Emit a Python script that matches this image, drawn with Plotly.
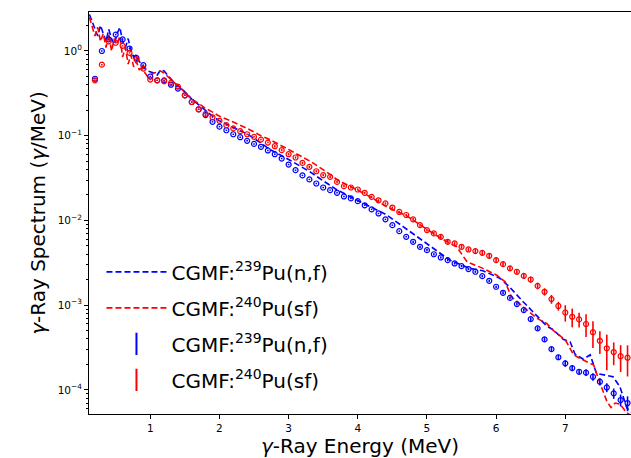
import plotly.graph_objects as go

# ---------------- data ----------------
energy = [0.2, 0.3, 0.4, 0.5, 0.6, 0.7, 0.8, 0.9, 1.0, 1.1, 1.2, 1.3, 1.4, 1.5, 1.6, 1.7, 1.8, 1.9,
          2.0, 2.1, 2.2, 2.3, 2.4, 2.5, 2.6, 2.7, 2.8, 2.9, 3.0, 3.1, 3.2, 3.3, 3.4, 3.5, 3.6, 3.7,
          3.8, 3.9, 4.0, 4.1, 4.2, 4.3, 4.4, 4.5, 4.6, 4.7, 4.8, 4.9, 5.0, 5.1, 5.2, 5.3, 5.4, 5.5,
          5.6, 5.7, 5.8, 5.9, 6.0, 6.1, 6.2, 6.3, 6.4, 6.5, 6.6, 6.7, 6.8, 6.9, 7.0, 7.1, 7.2, 7.3,
          7.4, 7.5, 7.6, 7.7, 7.8, 7.9]

pu239_pts = [0.47, 1.00, 1.37, 1.56, 1.37, 1.07, 0.83, 0.68, 0.50, 0.45, 0.45, 0.40, 0.36, 0.30,
             0.25, 0.205, 0.175, 0.146, 0.128, 0.116, 0.104, 0.096, 0.087, 0.080, 0.074, 0.067,
             0.0605, 0.0538, 0.0457, 0.0392, 0.0340, 0.0305, 0.0273, 0.0245, 0.0228, 0.0212,
             0.0192, 0.0182, 0.0169, 0.0151, 0.0135, 0.0121, 0.0103, 0.0088, 0.00748, 0.00641,
             0.0056, 0.00489, 0.00446, 0.00399, 0.00366, 0.0034, 0.00311, 0.00289, 0.00267,
             0.00248, 0.0022, 0.00194, 0.00165, 0.0014, 0.00122, 0.00103, 0.000875, 0.000686,
             0.000533, 0.000395, 0.000303, 0.000243, 0.000206, 0.000181, 0.000164, 0.00016,
             0.000143, 0.000125, 0.000107, 0.0000912, 0.000076, 0.00007]
pu239_relerr = [0.02, 0.02, 0.02, 0.02, 0.02, 0.02, 0.02, 0.02, 0.02, 0.02, 0.02, 0.02, 0.02, 0.02,
                0.02, 0.02, 0.02, 0.02, 0.02, 0.02, 0.02, 0.02, 0.02, 0.02, 0.02, 0.02, 0.02, 0.02,
                0.02, 0.02, 0.02, 0.02, 0.02, 0.02, 0.02, 0.02, 0.02, 0.02, 0.02, 0.02, 0.02, 0.02,
                0.02, 0.02, 0.02, 0.02, 0.03, 0.03, 0.03, 0.03, 0.03, 0.03, 0.03, 0.03, 0.03, 0.03,
                0.03, 0.03, 0.03, 0.04, 0.04, 0.04, 0.04, 0.05, 0.05, 0.06, 0.06, 0.07, 0.09, 0.08,
                0.08, 0.09, 0.10, 0.10, 0.12, 0.14, 0.16, 0.20]

pu240_pts = [0.45, 0.69, 1.30, 1.25, 1.15, 0.95, 0.80, 0.62, 0.46, 0.45, 0.44, 0.42, 0.38, 0.30,
             0.25, 0.205, 0.181, 0.165, 0.150, 0.133, 0.122, 0.113, 0.104, 0.097, 0.090, 0.083,
             0.0752, 0.0675, 0.0605, 0.0553, 0.0478, 0.0429, 0.0381, 0.0342, 0.0327, 0.0285,
             0.0254, 0.0245, 0.0232, 0.0212, 0.0190, 0.0173, 0.0159, 0.0142, 0.0126, 0.0116,
             0.0103, 0.0088, 0.0077, 0.00703, 0.00641, 0.0056, 0.00536, 0.00489, 0.00455,
             0.00435, 0.00415, 0.00383, 0.0034, 0.00305, 0.00272, 0.00248, 0.00222, 0.00201,
             0.00169, 0.00144, 0.00118, 0.00098, 0.00082, 0.00073, 0.00068, 0.0006, 0.00048,
             0.00038, 0.00031, 0.00028, 0.00025, 0.00024]
pu240_relerr = [0.02, 0.02, 0.02, 0.02, 0.02, 0.02, 0.02, 0.02, 0.02, 0.02, 0.02, 0.02, 0.02, 0.02,
                0.02, 0.02, 0.02, 0.02, 0.02, 0.02, 0.02, 0.02, 0.02, 0.02, 0.02, 0.02, 0.03, 0.03,
                0.03, 0.03, 0.03, 0.03, 0.03, 0.03, 0.03, 0.03, 0.03, 0.03, 0.03, 0.03, 0.03, 0.03,
                0.03, 0.03, 0.03, 0.03, 0.04, 0.04, 0.04, 0.04, 0.05, 0.05, 0.05, 0.05, 0.05, 0.06,
                0.06, 0.06, 0.06, 0.06, 0.07, 0.07, 0.08, 0.08, 0.09, 0.10, 0.12, 0.12, 0.22, 0.25,
                0.20, 0.30, 0.35, 0.30, 0.45, 0.30, 0.35, 0.40]

line_e = [0.12, 0.16, 0.20, 0.24, 0.28, 0.32, 0.36, 0.40, 0.44, 0.48, 0.52, 0.56, 0.60, 0.64, 0.68,
          0.72, 0.76, 0.80, 0.84, 0.88, 0.92, 0.96, 1.00, 1.05, 1.10, 1.15, 1.20, 1.25, 1.30, 1.35,
          1.40, 1.50, 1.60, 1.70, 1.80, 1.90, 2.00, 2.20, 2.40, 2.60, 2.73, 3.02, 3.31, 3.45, 3.69,
          3.94, 4.18, 4.42, 4.66, 4.90, 5.14, 5.33, 5.62, 5.81, 6.06, 6.20, 6.39, 6.59, 6.73, 6.83,
          6.97, 7.07, 7.14, 7.26, 7.36, 7.45, 7.55, 7.69, 7.79, 7.89, 7.95]
pu239_cgmf = [2.7, 2.2, 1.9, 1.5, 2.0, 1.6, 1.3, 1.8, 1.4, 1.2, 1.6, 1.9, 1.3, 1.1, 1.4, 1.0, 0.85,
              0.9, 0.75, 0.7, 0.62, 0.58, 0.57, 0.55, 0.52, 0.60, 0.58, 0.52, 0.47, 0.42, 0.39, 0.33,
              0.27, 0.23, 0.20, 0.17, 0.15, 0.125, 0.105, 0.082, 0.0688, 0.0514, 0.0374, 0.0313,
              0.0232, 0.0182, 0.0145, 0.0116, 0.0084, 0.0061, 0.00447, 0.0034, 0.00272, 0.00255,
              0.00207, 0.00162, 0.0011, 0.00076, 0.00057, 0.00051, 0.000395, 0.00037, 0.000265,
              0.00023, 0.00026, 0.000157, 0.00015, 0.000143, 0.000109, 0.0000612, 0.000055]

line_e240 = [0.12, 0.16, 0.20, 0.24, 0.28, 0.32, 0.36, 0.40, 0.44, 0.48, 0.52, 0.56, 0.60, 0.64, 0.68,
             0.72, 0.76, 0.80, 0.84, 0.88, 0.92, 0.96, 1.00, 1.05, 1.10, 1.15, 1.20, 1.25, 1.30, 1.35,
             1.40, 1.50, 1.60, 1.70, 1.80, 1.90, 2.00, 2.20, 2.40, 2.60, 2.73, 3.04, 3.33, 3.60, 3.71,
             3.98, 4.18, 4.42, 4.71, 5.09, 5.29, 5.43, 5.58, 5.81, 6.01, 6.13, 6.22, 6.39, 6.59, 6.73,
             6.83, 7.00, 7.12, 7.26, 7.41, 7.50, 7.60, 7.66, 7.72, 7.79, 7.89, 7.95]
pu240_cgmf = [2.5, 2.0, 1.5, 1.9, 1.3, 1.6, 1.1, 1.6, 1.0, 1.4, 1.2, 1.5, 0.85, 1.1, 0.7, 0.9, 0.65,
              0.75, 0.6, 0.62, 0.55, 0.5, 0.52, 0.55, 0.56, 0.58, 0.55, 0.5, 0.46, 0.42, 0.39, 0.32,
              0.27, 0.24, 0.21, 0.19, 0.17, 0.145, 0.122, 0.10, 0.090, 0.066, 0.049, 0.035, 0.0300,
              0.0232, 0.019, 0.0145, 0.0113, 0.00703, 0.0056, 0.00489, 0.00325, 0.00272, 0.00226,
              0.00189, 0.00126, 0.00096, 0.0007, 0.00061, 0.0005, 0.00039, 0.00026, 0.000225,
              0.000197, 0.000121, 0.000074, 0.000062, 0.00007, 0.000068, 0.0000535, 0.00005]

y_tickvals = [1e-4, 1e-3, 1e-2, 1e-1, 1]
y_ticktext = ["10<sup>−4</sup>", "10<sup>−3</sup>", "10<sup>−2</sup>", "10<sup>−1</sup>", "10<sup>0</sup>"]
x_tickvals = [1, 2, 3, 4, 5, 6, 7]

label_239 = "CGMF:<sup>239</sup>Pu(n,f)"
label_240 = "CGMF:<sup>240</sup>Pu(sf)"
BLUE = "#0000ff"
RED = "#ff0000"

fig = go.Figure()

fig.add_trace(go.Scatter(x=line_e, y=pu239_cgmf, mode="lines", name=label_239,
                         line=dict(color=BLUE, width=1.6, dash="6px,3px"), legendgroup="a"))
fig.add_trace(go.Scatter(x=line_e240, y=pu240_cgmf, mode="lines", name=label_240,
                         line=dict(color=RED, width=1.6, dash="6px,3px"), legendgroup="b"))

for pts, rel, col, grp, lab in [(pu239_pts, pu239_relerr, BLUE, "c", label_239),
                                 (pu240_pts, pu240_relerr, RED, "d", label_240)]:
    errs = [p * r for p, r in zip(pts, rel)]
    fig.add_trace(go.Scatter(x=energy, y=pts, mode="markers", showlegend=False, legendgroup=grp,
                             marker=dict(symbol="circle-open", size=5, color=col, line=dict(width=1.2, color=col)),
                             error_y=dict(type="data", array=errs, visible=True, color=col,
                                          thickness=1.6, width=0)))
    fig.add_trace(go.Scatter(x=[None], y=[None], mode="markers", name=lab, legendgroup=grp,
                             marker=dict(symbol="line-ns-open", size=16, color=col,
                                         line=dict(width=2, color=col))))

fig.update_layout(
    width=631, height=458,
    margin=dict(l=89, r=0, t=12, b=44),
    paper_bgcolor="white", plot_bgcolor="white",
    font=dict(family="DejaVu Sans", color="black"),
    showlegend=True,
    legend=dict(x=0.023, y=0.402, xanchor="left", yanchor="top", bgcolor="rgba(0,0,0,0)",
                font=dict(size=20, family="DejaVu Sans"), traceorder="grouped",
                tracegroupgap=7, itemwidth=60),
)
fig.update_xaxes(range=[0.114, 7.95], showline=True, linecolor="black", linewidth=1, mirror=True,
                 ticks="outside", ticklen=4, tickcolor="black", tickwidth=1,
                 tickvals=x_tickvals, tickfont=dict(size=10.5),
                 showgrid=False, zeroline=False,
                 title=dict(text="<i>γ</i>-Ray Energy (MeV)", font=dict(size=20), standoff=2))
fig.update_yaxes(type="log", range=[-4.284, 0.46], showline=True, linecolor="black", linewidth=1,
                 ticks="outside", ticklen=4, tickcolor="black", tickwidth=1,
                 tickvals=y_tickvals, ticktext=y_ticktext,
                 tickfont=dict(size=10.5), showgrid=False, zeroline=False,
                 minor=dict(ticks="outside", ticklen=2, dtick="D1", tickcolor="black", showgrid=False),
                 title=dict(text="<i>γ</i>-Ray Spectrum (<i>γ</i>/MeV)", font=dict(size=20), standoff=6))

fig.write_html("out.html")
